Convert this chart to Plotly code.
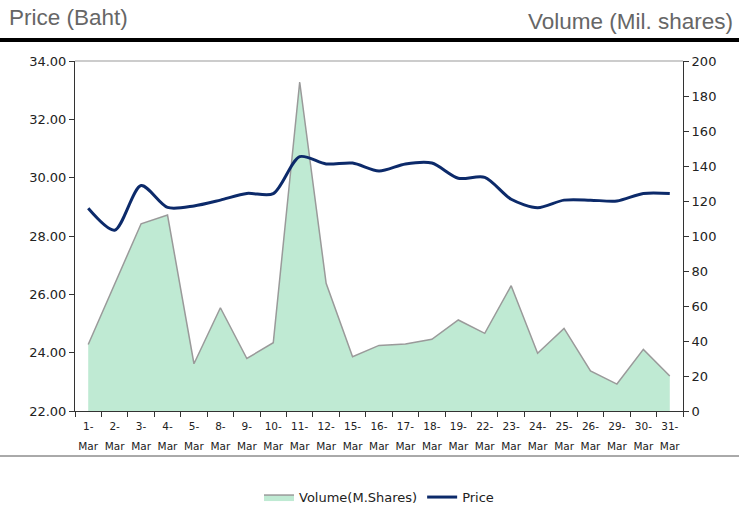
import plotly.graph_objects as go

dates = ["1-Mar", "2-Mar", "3-Mar", "4-Mar", "5-Mar", "8-Mar", "9-Mar", "10-Mar", "11-Mar",
         "12-Mar", "15-Mar", "16-Mar", "17-Mar", "18-Mar", "19-Mar", "22-Mar", "23-Mar",
         "24-Mar", "25-Mar", "26-Mar", "29-Mar", "30-Mar", "31-Mar"]
volume = [38, 72, 107, 112, 27, 59, 30, 39, 188, 73, 31, 37.5, 38.3, 41, 52, 44.4, 71.6,
          33, 47.2, 22.9, 15.4, 35.2, 20]
price = [28.95, 28.2, 29.73, 28.98, 29.03, 29.23, 29.46, 29.45, 30.72, 30.47, 30.5, 30.23,
         30.47, 30.5, 29.98, 30.01, 29.26, 28.97, 29.23, 29.23, 29.2, 29.46, 29.46]

span = "<span style='font-size:10.5px'>{}</span>"
tick_text = ["<br>".join(span.format(p) for p in d.replace("-", "-\n").split("\n")) for d in dates]

fig = go.Figure()
fig.add_trace(go.Scatter(
    x=dates, y=volume, name="Volume(M.Shares)", mode="lines",
    fill="tozeroy", fillcolor="#bfead3",
    line=dict(color="#9a9a9a", width=1.5), yaxis="y"))
fig.add_trace(go.Scatter(
    x=dates, y=price, name="Price", mode="lines",
    line=dict(color="#0c2a6a", width=3, shape="spline", smoothing=0.8), yaxis="y2"))

fig.update_layout(
    width=739, height=508,
    margin=dict(l=75, r=56, t=61, b=97, autoexpand=False),
    paper_bgcolor="white", plot_bgcolor="white",
    font=dict(family="DejaVu Sans", color="#222"),
    showlegend=True,
    legend=dict(orientation="h", x=0.5, xanchor="center", y=-0.246, yanchor="middle",
                font=dict(size=13, color="#222"), traceorder="normal"),
    xaxis=dict(type="category", tickmode="array", tickvals=dates, ticktext=tick_text,
               range=[-0.5, len(dates) - 0.5],
               tickson="boundaries", ticks="outside", ticklen=5, tickcolor="#333",
               tickangle=0,
               showline=True, linecolor="#333", linewidth=1, showgrid=False,
               tickfont=dict(size=15, color="#222")),
    yaxis=dict(side="right", range=[0, 200], dtick=20, ticks="outside", ticklen=5,
               tickcolor="#333", showline=True, linecolor="#333", linewidth=1,
               showgrid=False, zeroline=False, tickfont=dict(size=13, color="#222")),
    yaxis2=dict(side="left", overlaying="y", range=[22, 34], dtick=2, tickformat=".2f",
                ticks="outside", ticklen=5, tickcolor="#333", showline=True,
                linecolor="#333", linewidth=1, showgrid=False, zeroline=False,
                tickfont=dict(size=13, color="#222")),
    shapes=[
        dict(type="line", xref="paper", yref="paper", x0=0, x1=1, y0=1, y1=1,
             line=dict(color="#999", width=1)),
        dict(type="line", xref="paper", yref="paper", x0=-0.125, x1=1.095, y0=1.06, y1=1.06,
             line=dict(color="black", width=4)),
        dict(type="line", xref="paper", yref="paper", x0=-0.125, x1=1.095, y0=-0.1286, y1=-0.1286,
             line=dict(color="#555", width=1)),
    ],
    annotations=[
        dict(text="Price (Baht)", xref="paper", yref="paper", x=-0.112, y=1.123,
             xanchor="left", yanchor="middle", showarrow=False,
             font=dict(family="Liberation Sans", size=22.5, color="#666")),
        dict(text="Volume (Mil. shares)", xref="paper", yref="paper", x=1.0855, y=1.113,
             xanchor="right", yanchor="middle", showarrow=False,
             font=dict(family="Liberation Sans", size=22.5, color="#666")),
    ],
)

fig.write_html("out.html", config={"displayModeBar": False},
               post_script="document.body.style.margin='0';document.body.style.overflow='hidden';")
